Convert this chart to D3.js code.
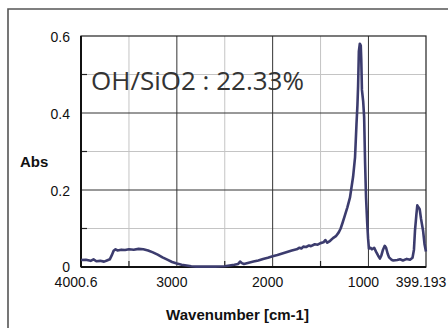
<!DOCTYPE html>
<html><head><meta charset="utf-8">
<script src="https://cdn.jsdelivr.net/npm/d3@7"></script>
<style>body{margin:0;background:#fff}svg{display:block}</style>
</head><body>
<svg id="c" width="448" height="328"></svg>
<script>
const wavenumber = [4000,3950,3900,3870,3840,3800,3760,3730,3700,3680,3660,3640,3620,3580,3540,3500,3450,3400,3350,3300,3250,3200,3150,3100,3050,3000,2950,2900,2850,2800,2700,2600,2500,2450,2400,2360,2340,2320,2300,2250,2200,2150,2100,2050,2000,1950,1900,1850,1800,1750,1720,1700,1680,1650,1620,1600,1560,1530,1500,1470,1450,1430,1400,1370,1340,1310,1290,1270,1245,1220,1193,1160,1140,1125,1115,1108,1100,1090,1080,1075,1068,1055,1045,1035,1025,1012,1004,995,980,963,940,921,900,880,865,848,830,816,800,785,760,740,700,670,640,600,566,540,525,514,500,490,478,465,451,430,415,400];
const absorbance = [0.018,0.019,0.016,0.020,0.015,0.016,0.014,0.017,0.020,0.030,0.042,0.046,0.043,0.045,0.044,0.046,0.045,0.047,0.046,0.043,0.038,0.032,0.025,0.019,0.013,0.009,0.006,0.004,0.002,0.001,0.001,0.001,0.002,0.004,0.006,0.008,0.014,0.010,0.008,0.011,0.014,0.017,0.021,0.024,0.028,0.031,0.035,0.039,0.043,0.046,0.050,0.048,0.053,0.052,0.056,0.054,0.059,0.058,0.062,0.064,0.070,0.063,0.068,0.075,0.080,0.090,0.100,0.115,0.135,0.155,0.180,0.235,0.285,0.370,0.420,0.470,0.560,0.580,0.575,0.540,0.460,0.430,0.390,0.270,0.180,0.110,0.075,0.048,0.050,0.046,0.050,0.040,0.030,0.022,0.030,0.045,0.055,0.050,0.035,0.025,0.019,0.017,0.018,0.020,0.017,0.021,0.019,0.024,0.045,0.095,0.135,0.160,0.155,0.150,0.125,0.095,0.060,0.040];
const xTickValues = [4000.6, 3000, 2000, 1000, 399.193];
const xTickLabels = ["4000.6", "3000", "2000", "1000", "399.193"];
const xMinorValues = [3500, 2500, 1500];
const yTickValues = [0, 0.2, 0.4, 0.6];
const yTickLabels = ["0", "0.2", "0.4", "0.6"];
const yMinorValues = [0.1, 0.3, 0.5];
const annotation = "OH/SiO2 : 22.33%";

const svg = d3.select("#c");
const L = 81, R = 426, T = 36, B = 267;
const x = d3.scaleLinear().domain([4000.6, 399.193]).range([L, R]);
const y = d3.scaleLinear().domain([0, 0.6]).range([B, T]);

svg.append("path").attr("d", `M8,328 L8,9 L448,9`).attr("fill", "none").attr("stroke", "#555").attr("stroke-width", 1.6);

const g = svg.append("g");
xMinorValues.forEach(v => g.append("line").attr("x1", x(v)).attr("x2", x(v)).attr("y1", T).attr("y2", B).attr("stroke", "#c4c4c4").attr("stroke-width", 1));
yMinorValues.forEach(v => g.append("line").attr("x1", L).attr("x2", R).attr("y1", y(v)).attr("y2", y(v)).attr("stroke", "#c4c4c4").attr("stroke-width", 1));
[3000, 2000, 1000].forEach(v => g.append("line").attr("x1", x(v)).attr("x2", x(v)).attr("y1", T).attr("y2", B).attr("stroke", "#333").attr("stroke-width", 1));
[0.2, 0.4].forEach(v => g.append("line").attr("x1", L).attr("x2", R).attr("y1", y(v)).attr("y2", y(v)).attr("stroke", "#333").attr("stroke-width", 1));
xMinorValues.forEach(v => g.append("line").attr("x1", x(v)).attr("x2", x(v)).attr("y1", B).attr("y2", B - 6).attr("stroke", "#222").attr("stroke-width", 1.2));
yMinorValues.forEach(v => g.append("line").attr("x1", L).attr("x2", L + 6).attr("y1", y(v)).attr("y2", y(v)).attr("stroke", "#222").attr("stroke-width", 1.2));
g.append("rect").attr("x", L).attr("y", T).attr("width", R - L).attr("height", B - T).attr("fill", "none").attr("stroke", "#222").attr("stroke-width", 1.2);
g.append("line").attr("x1", L).attr("x2", R).attr("y1", B).attr("y2", B).attr("stroke", "#111").attr("stroke-width", 2);
g.append("line").attr("x1", L).attr("x2", L).attr("y1", T).attr("y2", B).attr("stroke", "#111").attr("stroke-width", 2);

const xAxis = d3.axisBottom(x).tickValues(xTickValues).tickFormat((d, i) => xTickLabels[i]).tickSize(0).tickPadding(0);
const xa = svg.append("g").attr("transform", `translate(-5.5,${B})`).call(xAxis);
xa.select(".domain").remove();
xa.selectAll("text").attr("font-family", "Liberation Sans, Arial, sans-serif").attr("font-size", 14).attr("fill", "#111").attr("dy", null).attr("y", 20);

const yAxis = d3.axisLeft(y).tickValues(yTickValues).tickFormat((d, i) => yTickLabels[i]).tickSize(0).tickPadding(11);
const ya = svg.append("g").attr("transform", `translate(${L},0)`).call(yAxis);
ya.select(".domain").remove();
ya.selectAll("text").attr("font-family", "Liberation Sans, Arial, sans-serif").attr("font-size", 14).attr("fill", "#111").attr("dy", "0.36em");
ya.selectAll(".tick").filter(d => d === 0).select("text").attr("dy", "0.3em");

const data = wavenumber.map((w, i) => [w, absorbance[i]]);
svg.append("path").datum(data)
  .attr("d", d3.line().x(d => x(d[0])).y(d => y(d[1])))
  .attr("fill", "none").attr("stroke", "#3c3c6e").attr("stroke-width", 2.6).attr("stroke-linejoin", "round");

svg.append("text").attr("x", 91).attr("y", 90).text(annotation)
  .attr("font-family", "Open Sans, sans-serif").attr("font-size", 26).attr("fill", "#333").attr("font-weight", 400);

svg.append("text").attr("x", 20).attr("y", 167).text("Abs")
  .attr("font-family", "Liberation Sans, Arial, sans-serif").attr("font-size", 15).attr("font-weight", "bold").attr("fill", "#111");
svg.append("text").attr("x", 237.5).attr("y", 320).attr("text-anchor", "middle").text("Wavenumber [cm-1]")
  .attr("font-family", "Liberation Sans, Arial, sans-serif").attr("font-size", 15).attr("font-weight", "bold").attr("fill", "#111");
</script>
</body></html>
